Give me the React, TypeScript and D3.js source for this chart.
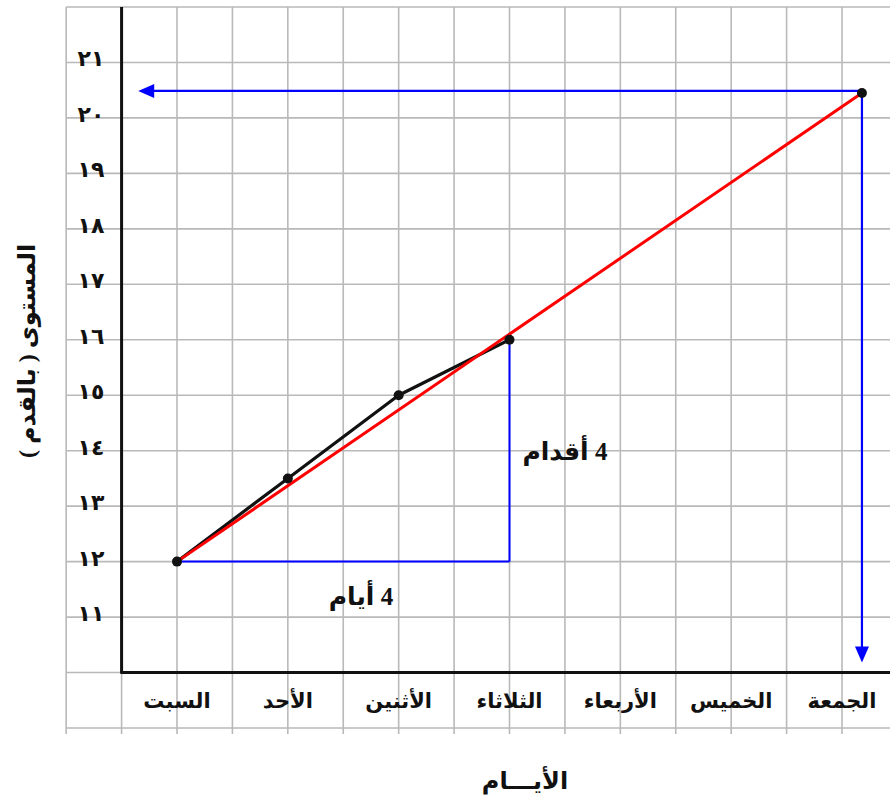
import React from 'react';
import * as d3 from 'd3';

// days along the x axis (right-to-left reading, drawn left to right as in the worksheet)
const days = ['السبت', 'الأحد', 'الأثنين', 'الثلاثاء', 'الأربعاء', 'الخميس', 'الجمعة'];
// measured water level (feet) for the first four days
const levelValues = [12, 13.5, 15, 16];
// y tick values and their Arabic-Indic labels
const yTickValues = [11, 12, 13, 14, 15, 16, 17, 18, 19, 20, 21];
const yTickLabels = ['١١', '١٢', '١٣', '١٤', '١٥', '١٦', '١٧', '١٨', '١٩', '٢٠', '٢١'];
// extended trend line: start and predicted end
const trendDays = [0, 6.18];
const trendLevels = [12, 20.45];
// slope triangle: run of days and rise of feet
const runDays = [0, 3];
const riseLevels = [12, 16];
const arrowLeftDay = -0.35;
const arrowBottomLevel = 10.18;

const xTitle = 'الأيـــام';
const yTitle = 'المستوى ( بالقدم )';
const runLabel = '4 أيام';
const riseLabel = '4 أقدام';

const W = 890;
const H = 810;
const FONT = "'Times New Roman', 'Liberation Serif', 'DejaVu Sans', serif";

export default function App() {
  const x = d3.scaleLinear().domain([0, 6]).range([177, 842]);
  const y = d3.scaleLinear().domain([22, 9]).range([7, 728]);

  const halfDays = d3.range(-1, 6.6, 0.5);
  const levels = d3.range(9, 22.01, 1);
  const gridLeft = x(-1);
  const axisX = x(-0.5);
  const axisY = y(10);

  const line = d3.line<number>()
    .x((_, i) => x(i))
    .y(d => y(d));

  const ex = x(trendDays[1]);
  const ey = y(trendLevels[1]);
  const arrowTipX = x(arrowLeftDay);
  const arrowTipY = y(arrowBottomLevel);

  return (
    <svg width={W} height={H} style={{ position: 'absolute', left: 0, top: 0, background: '#fff' }} fontFamily={FONT}>
      {/* grid */}
      <g stroke="#b9b9b9" strokeWidth={1.6}>
        {halfDays.map(d => (
          <line key={'v' + d} x1={x(d)} x2={x(d)} y1={y(22)} y2={y(9) + 6} />
        ))}
        {levels.map(v => (
          <line key={'h' + v} x1={gridLeft} x2={W} y1={y(v)} y2={y(v)} />
        ))}
      </g>

      {/* axes */}
      <line x1={axisX} x2={axisX} y1={y(22)} y2={axisY + 1} stroke="#111" strokeWidth={3} />
      <line x1={axisX - 1} x2={W} y1={axisY} y2={axisY} stroke="#111" strokeWidth={3} />

      {/* y tick labels */}
      {yTickValues.map((v, i) => (
        <text key={v} x={91} y={y(v) + 4} textAnchor="middle" fontSize={22} fontWeight="bold"
          letterSpacing={4} fill="#111">{yTickLabels[i]}</text>
      ))}

      {/* x labels */}
      {days.map((d, i) => (
        <text key={d} x={x(i)} y={(axisY + y(9)) / 2 + 8} textAnchor="middle" fontSize={21}
          fontWeight="bold" direction="rtl" fill="#111">{d}</text>
      ))}

      {/* blue slope triangle */}
      <g stroke="#0000ff" strokeWidth={2} fill="none">
        <line x1={x(runDays[0])} x2={x(runDays[1])} y1={y(riseLevels[0])} y2={y(riseLevels[0])} />
        <line x1={x(runDays[1])} x2={x(runDays[1])} y1={y(riseLevels[0])} y2={y(riseLevels[1])} />
      </g>

      {/* blue reading arrows */}
      <g stroke="#0000ff" strokeWidth={2.2}>
        <line x1={ex} x2={arrowTipX + 12} y1={ey - 2} y2={ey - 2} />
        <line x1={ex} x2={ex} y1={ey - 2} y2={arrowTipY - 12} />
      </g>
      <path d={`M${arrowTipX},${ey - 2} l16,-7 l0,14 Z`} fill="#0000ff" />
      <path d={`M${ex},${arrowTipY} l-7,-16 l14,0 Z`} fill="#0000ff" />

      {/* measured levels */}
      <path d={line(levelValues) ?? ''} fill="none" stroke="#111" strokeWidth={3.2} strokeLinejoin="round" />

      {/* trend line */}
      <line x1={x(trendDays[0])} y1={y(trendLevels[0])} x2={ex} y2={ey} stroke="#ff0000" strokeWidth={3} />

      {levelValues.map((v, i) => (
        <circle key={i} cx={x(i)} cy={y(v)} r={5} fill="#111" />
      ))}
      <circle cx={ex} cy={ey} r={5} fill="#111" />

      {/* annotations */}
      <text x={x(1.66)} y={y(11.22)} textAnchor="middle" fontSize={25} fontWeight="bold"
        direction="rtl" fill="#111">{runLabel}</text>
      <text x={x(3.5)} y={y(13.83)} textAnchor="middle" fontSize={25} fontWeight="bold"
        direction="rtl" fill="#111">{riseLabel}</text>

      {/* axis titles */}
      <text x={x(3.14)} y={789} textAnchor="middle" fontSize={24} fontWeight="bold"
        direction="rtl" fill="#111">{xTitle}</text>
      <text transform={`translate(35,${y(15.8)}) rotate(-90)`} textAnchor="middle" fontSize={24}
        fontWeight="bold" direction="rtl" fill="#111">{yTitle}</text>
    </svg>
  );
}
